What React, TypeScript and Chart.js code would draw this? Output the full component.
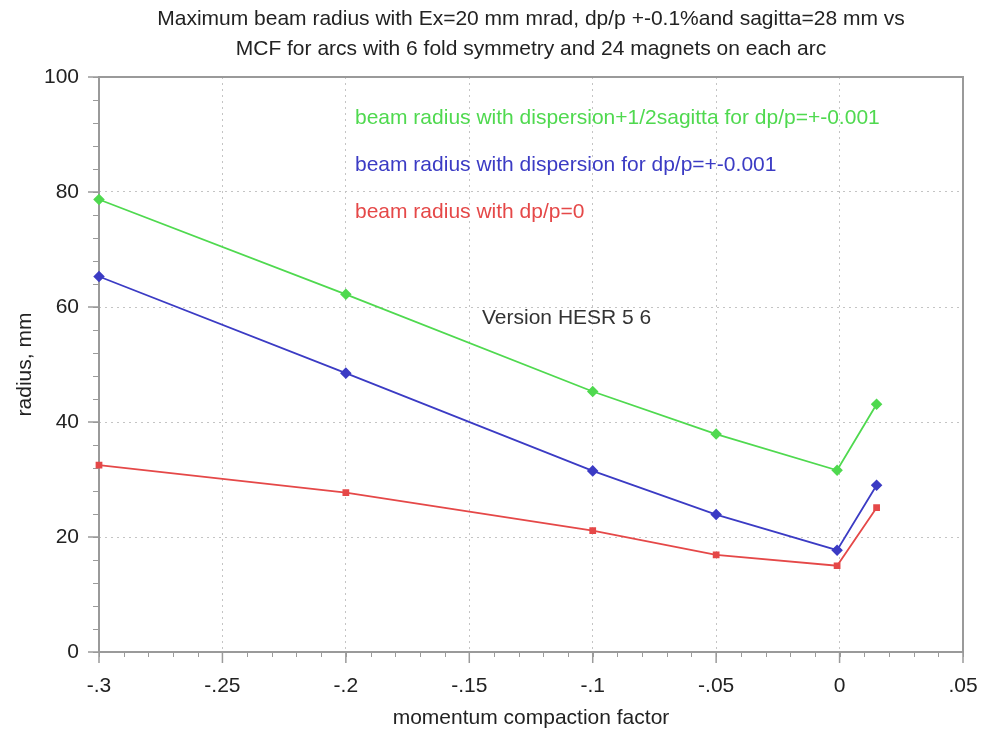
import React, { useEffect, useRef } from "react";
import { Chart, registerables } from "chart.js";

Chart.register(...registerables);

// ---- data ----
const mcf = [-0.3, -0.2, -0.1, -0.05, -0.001, 0.015];
const radiusDispersionSagitta = [78.7, 62.2, 45.3, 37.9, 31.6, 43.1];
const radiusDispersion = [65.3, 48.5, 31.5, 23.9, 17.7, 29.0];
const radiusNoDispersion = [32.5, 27.7, 21.1, 16.9, 15.0, 25.1];

const seriesLabels = [
  "beam radius with dispersion+1/2sagitta for dp/p=+-0.001",
  "beam radius with dispersion for dp/p=+-0.001",
  "beam radius with dp/p=0",
];
const titleLines = [
  "Maximum beam radius with Ex=20 mm mrad, dp/p +-0.1%and sagitta=28 mm vs",
  "MCF for arcs with 6 fold symmetry and 24 magnets on each arc",
];
const xAxisTitle = "momentum compaction factor";
const yAxisTitle = "radius, mm";
const versionNote = "Version HESR 5 6";

const X_MIN = -0.3;
const X_MAX = 0.05;
const X_STEP = 0.05;
const X_MINOR = 0.01;
const Y_MIN = 0;
const Y_MAX = 100;
const Y_STEP = 20;
const Y_MINOR = 4;

const FONT = "'Liberation Sans', Arial, Helvetica, sans-serif";
const GREEN = "#4fd94f";
const BLUE = "#3b3bc4";
const RED = "#e54848";
const AXIS = "#9a9a9a";

function fmtX(v: number): string {
  const r = Math.round(v * 1000) / 1000;
  if (r === 0) return "0";
  return String(r).replace("0.", ".");
}

const decorPlugin = {
  id: "decor",
  beforeDatasetsDraw(chart: any) {
    const { ctx, chartArea: a, scales } = chart;
    const xs = scales.x;
    const ys = scales.y;
    ctx.save();
    ctx.strokeStyle = AXIS;
    // minor ticks x
    ctx.lineWidth = 1;
    const nx = Math.round((X_MAX - X_MIN) / X_MINOR);
    for (let i = 0; i <= nx; i++) {
      const px = Math.round(xs.getPixelForValue(X_MIN + i * X_MINOR)) + 0.5;
      ctx.beginPath();
      ctx.moveTo(px, a.bottom);
      ctx.lineTo(px, a.bottom + 5);
      ctx.stroke();
    }
    const ny = Math.round((Y_MAX - Y_MIN) / Y_MINOR);
    for (let i = 0; i <= ny; i++) {
      const py = Math.round(ys.getPixelForValue(Y_MIN + i * Y_MINOR)) + 0.5;
      ctx.beginPath();
      ctx.moveTo(a.left - 6, py);
      ctx.lineTo(a.left, py);
      ctx.stroke();
    }
    // major ticks
    ctx.lineWidth = 1.5;
    const mx = Math.round((X_MAX - X_MIN) / X_STEP);
    for (let i = 0; i <= mx; i++) {
      const px = xs.getPixelForValue(X_MIN + i * X_STEP);
      ctx.beginPath();
      ctx.moveTo(px, a.bottom);
      ctx.lineTo(px, a.bottom + 11);
      ctx.stroke();
    }
    const my = Math.round((Y_MAX - Y_MIN) / Y_STEP);
    for (let i = 0; i <= my; i++) {
      const py = ys.getPixelForValue(Y_MIN + i * Y_STEP);
      ctx.beginPath();
      ctx.moveTo(a.left - 11, py);
      ctx.lineTo(a.left, py);
      ctx.stroke();
    }
    // frame
    ctx.lineWidth = 2;
    ctx.beginPath();
    ctx.moveTo(a.left, a.top);
    ctx.lineTo(a.left, a.bottom);
    ctx.lineTo(a.right, a.bottom);
    ctx.lineTo(a.right, a.top);
    ctx.closePath();
    ctx.stroke();
    ctx.restore();
  },
  afterDraw(chart: any) {
    const { ctx, chartArea: a } = chart;
    ctx.save();
    ctx.font = `21px ${FONT}`;
    ctx.textBaseline = "alphabetic";
    // title
    ctx.fillStyle = "#222";
    ctx.textAlign = "center";
    const cx = (a.left + a.right) / 2;
    ctx.fillText(titleLines[0], cx, 25);
    ctx.fillText(titleLines[1], cx, 55);
    // x axis title
    ctx.fillText(xAxisTitle, cx, 724);
    // y axis title
    ctx.save();
    ctx.translate(31, (a.top + a.bottom) / 2);
    ctx.rotate(-Math.PI / 2);
    ctx.fillText(yAxisTitle, 0, 0);
    ctx.restore();
    // series labels
    ctx.textAlign = "left";
    const colors = [GREEN, BLUE, RED];
    const baselines = [124, 171, 218];
    seriesLabels.forEach((t, i) => {
      ctx.fillStyle = colors[i];
      ctx.fillText(t, 355, baselines[i]);
    });
    ctx.fillStyle = "#333";
    ctx.fillText(versionNote, 482, 324);
    ctx.restore();
  },
};

export default function App() {
  const ref = useRef<HTMLCanvasElement | null>(null);
  useEffect(() => {
    if (!ref.current) return;
    const mk = (vals: number[]) => mcf.map((x, i) => ({ x, y: vals[i] }));
    const chart = new Chart(ref.current, {
      type: "line",
      data: {
        datasets: [
          {
            label: seriesLabels[0],
            data: mk(radiusDispersionSagitta),
            borderColor: GREEN,
            backgroundColor: GREEN,
            borderWidth: 1.8,
            pointStyle: "rectRot",
            pointRadius: 4.5,
            clip: false,
          },
          {
            label: seriesLabels[1],
            data: mk(radiusDispersion),
            borderColor: BLUE,
            backgroundColor: BLUE,
            borderWidth: 1.8,
            pointStyle: "rectRot",
            pointRadius: 4.5,
            clip: false,
          },
          {
            label: seriesLabels[2],
            data: mk(radiusNoDispersion),
            borderColor: RED,
            backgroundColor: RED,
            borderWidth: 1.8,
            pointStyle: "rect",
            pointRadius: 3.5,
            clip: false,
          },
        ] as any,
      },
      options: {
        responsive: false,
        animation: false,
        events: [],
        layout: { padding: { left: 0, right: 18, top: 77, bottom: 0 } },
        plugins: {
          legend: { display: false },
          title: { display: false },
          tooltip: { enabled: false },
        },
        scales: {
          x: {
            type: "linear",
            min: X_MIN,
            max: X_MAX,
            afterBuildTicks: (s: any) => {
              const n = Math.round((X_MAX - X_MIN) / X_STEP);
              s.ticks = Array.from({ length: n + 1 }, (_, i) => ({
                value: Math.round((X_MIN + i * X_STEP) * 1000) / 1000,
              }));
            },
            ticks: {
              callback: (v: any) => fmtX(Number(v)),
              font: { family: FONT, size: 21 },
              color: "#222",
              padding: 22,
              maxRotation: 0,
              autoSkip: false,
            },
            grid: {
              color: "#c4c4c4",
              lineWidth: 1,
              drawTicks: false,
            },
            border: { display: false, dash: [2, 4] },
            afterFit: (s: any) => {
              s.height = 83;
              s.paddingLeft = 0;
              s.paddingRight = 0;
            },
          },
          y: {
            type: "linear",
            min: Y_MIN,
            max: Y_MAX,
            ticks: {
              stepSize: Y_STEP,
              font: { family: FONT, size: 21 },
              color: "#222",
              padding: 20,
            },
            grid: {
              color: "#c4c4c4",
              lineWidth: 1,
              drawTicks: false,
            },
            border: { display: false, dash: [2, 4] },
            afterFit: (s: any) => {
              s.width = 99;
              s.paddingTop = 0;
              s.paddingBottom = 0;
            },
          },
        },
      } as any,
      plugins: [decorPlugin],
    });
    return () => chart.destroy();
  }, []);
  return (
    <div
      style={{
        position: "fixed",
        left: 0,
        top: 0,
        width: 981,
        height: 735,
        background: "#fff",
      }}
    >
      <canvas ref={ref} width={981} height={735} />
    </div>
  );
}
